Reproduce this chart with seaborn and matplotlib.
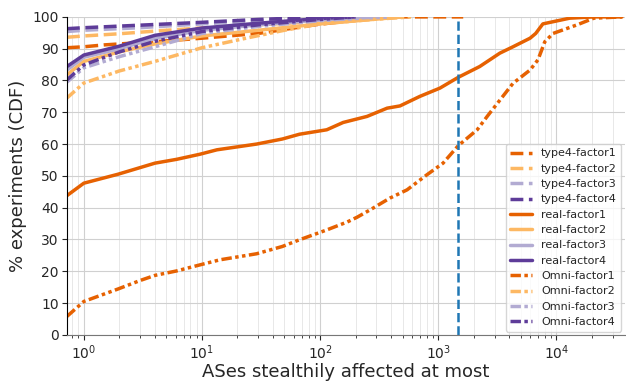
import matplotlib
matplotlib.use("Agg")
import matplotlib.pyplot as plt
import seaborn as sns
import pandas as pd

sns.set_style("ticks")
plt.rcParams['font.family'] = ['DejaVu Sans']

# PuOr diverging colours, one per factor (factor1..factor4)
factor_colors = ["#e66101", "#fdb863", "#b2abd2", "#5e3c99"]

# ---- type4 series (dashed) ----
type4_f1_x = [0.72, 1, 1.5, 4, 10, 30, 90, 200, 320, 1630]
type4_f1_y = [90.3, 90.6, 91.2, 92.2, 93.3, 94.8, 97.5, 99.0, 100, 100]
type4_f2_x = [0.72, 1, 2, 5, 10, 30, 100, 250, 500]
type4_f2_y = [93.6, 94.0, 94.7, 95.8, 96.5, 97.5, 98.6, 99.5, 100]
type4_f3_x = [0.72, 1, 3, 10, 30, 100, 200]
type4_f3_y = [95.4, 95.8, 96.6, 97.8, 98.7, 99.6, 100]
type4_f4_x = [0.72, 1, 3, 10, 30, 80, 150]
type4_f4_y = [96.3, 96.6, 97.4, 98.3, 99.2, 99.8, 100]

# ---- real series (solid) ----
real_f1_x = [0.72, 1, 1.94, 4, 6.1, 9.6, 13.4, 29, 48, 67, 114, 157, 250, 370,
             475, 700, 1035, 1480, 2250, 3330, 4300, 6000, 6700, 7700, 13000,
             20800, 36000]
real_f1_y = [43.8, 47.7, 50.5, 54.0, 55.2, 56.8, 58.2, 60.0, 61.6, 63.1, 64.5,
             66.8, 68.7, 71.3, 72.0, 75.0, 77.6, 81.0, 84.4, 88.6, 90.6, 93.3,
             94.8, 97.8, 99.6, 100, 100]
real_f2_x = [0.72, 1, 2, 4, 10, 30, 100, 300, 500]
real_f2_y = [81.8, 86.0, 89.0, 91.5, 94.0, 95.8, 97.8, 99.3, 100]
real_f3_x = [0.72, 1, 2, 4, 10, 30, 100, 400]
real_f3_y = [83.3, 87.3, 90.0, 93.2, 95.8, 97.5, 99.0, 100]
real_f4_x = [0.72, 1, 2, 4, 10, 30, 100, 200]
real_f4_y = [84.4, 88.0, 90.8, 94.2, 96.5, 98.0, 99.5, 100]

# ---- Omni series (dash-dot-dot) ----
omni_f1_x = [0.72, 1, 1.94, 3, 4, 6.1, 9.6, 14.2, 29, 48, 67, 114, 170, 206,
             265, 390, 545, 800, 1100, 1480, 2140, 2600, 4300, 6000, 7000,
             8000, 9400, 15000, 20800, 36000]
omni_f1_y = [5.8, 10.5, 14.4, 17.1, 18.7, 20.1, 22.0, 23.6, 25.5, 27.8, 29.9,
             33.0, 35.5, 37.0, 39.3, 43.0, 45.6, 50.3, 54.0, 59.5, 64.5, 68.7,
             79.1, 83.3, 86.5, 92.2, 94.8, 97.5, 99.6, 100]
omni_f2_x = [0.72, 1, 2, 4, 10, 25, 50, 100, 300, 600]
omni_f2_y = [74.5, 79.2, 83.0, 86.0, 90.3, 93.5, 95.8, 97.8, 99.3, 100]
omni_f3_x = [0.72, 1, 2, 4, 10, 30, 100, 300]
omni_f3_y = [79.5, 84.0, 87.5, 90.6, 94.8, 97.0, 98.8, 100]
omni_f4_x = [0.72, 1, 2, 4, 10, 30, 100, 200]
omni_f4_y = [80.2, 84.9, 89.0, 92.3, 95.4, 97.5, 99.2, 100]

threshold_x = 1480

dash_dot_dot = (0, (3, 1, 1, 1, 1, 1))
series = [
    ("type4-factor1", type4_f1_x, type4_f1_y, 0, "--"),
    ("type4-factor2", type4_f2_x, type4_f2_y, 1, "--"),
    ("type4-factor3", type4_f3_x, type4_f3_y, 2, "--"),
    ("type4-factor4", type4_f4_x, type4_f4_y, 3, "--"),
    ("real-factor1", real_f1_x, real_f1_y, 0, "-"),
    ("real-factor2", real_f2_x, real_f2_y, 1, "-"),
    ("real-factor3", real_f3_x, real_f3_y, 2, "-"),
    ("real-factor4", real_f4_x, real_f4_y, 3, "-"),
    ("Omni-factor1", omni_f1_x, omni_f1_y, 0, dash_dot_dot),
    ("Omni-factor2", omni_f2_x, omni_f2_y, 1, dash_dot_dot),
    ("Omni-factor3", omni_f3_x, omni_f3_y, 2, dash_dot_dot),
    ("Omni-factor4", omni_f4_x, omni_f4_y, 3, dash_dot_dot),
]

fig, ax = plt.subplots(figsize=(6.26, 3.84), dpi=100)
fig.subplots_adjust(left=0.107, right=0.998, bottom=0.128, top=0.956)

for name, xs, ys, ci, ls in series:
    df = pd.DataFrame({"x": xs, "y": ys})
    sns.lineplot(data=df, x="x", y="y", ax=ax, color=factor_colors[ci],
                 linestyle=ls, linewidth=2.5, label=name, estimator=None,
                 sort=True)

ax.axvline(threshold_x, color="#1f77b4", linestyle="--", linewidth=1.8)

ax.set_xscale("log")
ax.set_xlim(0.72, 38000)
ax.set_ylim(0, 100)
ax.set_yticks(range(0, 101, 10))
ax.grid(True, which="major", color="#d0d0d0", linewidth=0.8)
ax.grid(True, which="minor", axis="x", color="#e4e4e4", linewidth=0.6)
ax.set_axisbelow(True)
ax.tick_params(axis="both", labelsize=10, pad=2.5)

ax.set_xlabel("ASes stealthily affected at most", fontsize=13, labelpad=1)
ax.set_ylabel("% experiments (CDF)", fontsize=13)

for side in ("top", "right"):
    ax.spines[side].set_visible(False)
ax.spines["bottom"].set_color("#777777")
ax.spines["left"].set_color("black")

ax.legend(loc="lower right", fontsize=8, framealpha=0.8, labelspacing=0.48,
          borderaxespad=0.3)

fig.savefig("out.png", dpi=100)
